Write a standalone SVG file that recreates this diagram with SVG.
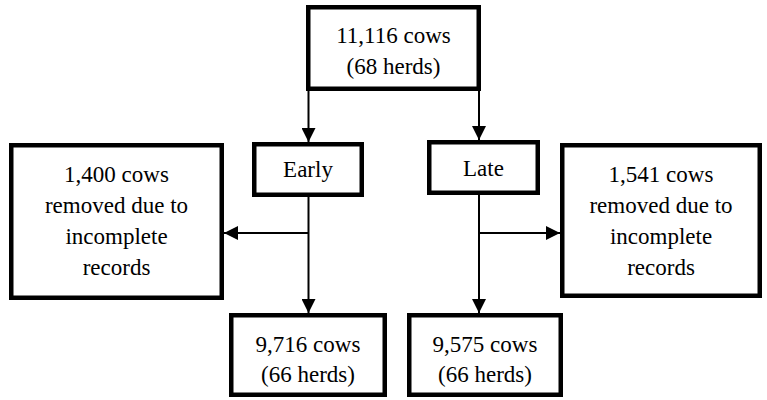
<svg xmlns="http://www.w3.org/2000/svg" width="767" height="400" viewBox="0 0 767 400">
<style>
.box{fill:#fff;stroke:#000;stroke-width:4.5}
.t{font-size:23px;fill:#000;text-anchor:middle}
.c{stroke:#000;stroke-width:2;fill:none}
</style>
<defs>
<marker id="ah" markerUnits="userSpaceOnUse" markerWidth="14" markerHeight="14" refX="14" refY="7" orient="auto">
<path d="M0,0 L14,7 L0,14 z" fill="#000"/>
</marker>
</defs>
<rect width="767" height="400" fill="#fff"/>
<g id="connectors">
<line class="c" x1="308.5" y1="91" x2="308.5" y2="142" marker-end="url(#ah)"/>
<line class="c" x1="479" y1="91" x2="479" y2="140" marker-end="url(#ah)"/>
<line class="c" x1="308.5" y1="197" x2="308.5" y2="313" marker-end="url(#ah)"/>
<line class="c" x1="308.5" y1="233" x2="224" y2="233" marker-end="url(#ah)"/>
<line class="c" x1="479" y1="195" x2="479" y2="313" marker-end="url(#ah)"/>
<line class="c" x1="479" y1="233" x2="560" y2="233" marker-end="url(#ah)"/>
</g>
<g font-family="Times New Roman, Liberation Serif, DejaVu Serif, serif">
<g id="top">
<rect class="box" x="308.25" y="7.25" width="170.5" height="81.5"/>
<text class="t" x="393.5" y="43">11,116 cows</text>
<text class="t" x="393.5" y="74">(68 herds)</text>
</g>
<g id="early">
<rect class="box" x="254.25" y="144.25" width="107.5" height="50.5"/>
<text class="t" x="308" y="177">Early</text>
</g>
<g id="late">
<rect class="box" x="429.25" y="142.25" width="108.5" height="50.5"/>
<text class="t" x="483.5" y="176">Late</text>
</g>
<g id="removed-early">
<rect class="box" x="11.25" y="145.25" width="210.5" height="152.5"/>
<text class="t" x="116.5" y="182">1,400 cows</text>
<text class="t" x="116.5" y="213">removed due to</text>
<text class="t" x="116.5" y="244">incomplete</text>
<text class="t" x="116.5" y="275">records</text>
</g>
<g id="removed-late">
<rect class="box" x="562.25" y="145.25" width="197.5" height="150.5"/>
<text class="t" x="661" y="182">1,541 cows</text>
<text class="t" x="661" y="213">removed due to</text>
<text class="t" x="661" y="244">incomplete</text>
<text class="t" x="661" y="275">records</text>
</g>
<g id="final-early">
<rect class="box" x="231.25" y="315.25" width="153.5" height="79.5"/>
<text class="t" x="308" y="352">9,716 cows</text>
<text class="t" x="308" y="382">(66 herds)</text>
</g>
<g id="final-late">
<rect class="box" x="409.25" y="315.25" width="151.5" height="79.5"/>
<text class="t" x="485" y="352">9,575 cows</text>
<text class="t" x="485" y="382">(66 herds)</text>
</g>
</g>
</svg>
